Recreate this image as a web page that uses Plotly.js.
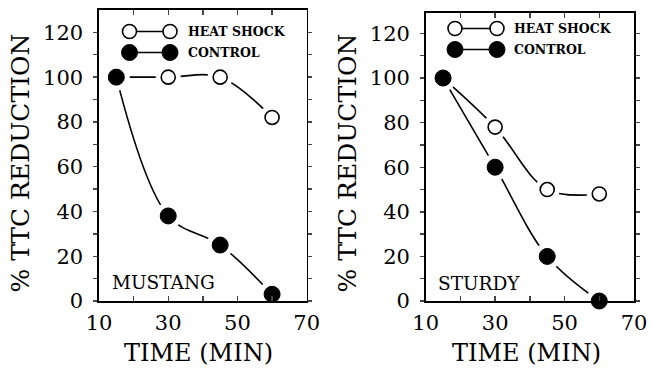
<!DOCTYPE html>
<html>
<head>
<meta charset="utf-8">
<script src="https://cdn.plot.ly/plotly-3.0.1.min.js"></script>
<style>html,body{margin:0;padding:0;background:#fff}#chart{width:652px;height:371px}</style>
</head>
<body>
<div id="chart"></div>
<script>
// ---- data ----
var timeMin = [15, 30, 45, 60];
var mustangHeatShock = [100, 100, 100, 82];
var mustangControl = [100, 38, 25, 3];
var sturdyHeatShock = [100, 78, 50, 48];
var sturdyControl = [100, 60, 20, 0];
var xTickVals = [10, 20, 30, 40, 50, 60, 70];
var xTickText = ["10", "", "30", "", "50", "", "70"];
var yTickVals = [0, 10, 20, 30, 40, 50, 60, 70, 80, 90, 100, 110, 120];
var yTickText = ["0", "", "20", "", "40", "", "60", "", "80", "", "100", "", "120"];
var panelNames = ["MUSTANG", "STURDY"];
var seriesNames = ["HEAT SHOCK", "CONTROL"];
var xTitle = "TIME (MIN)";
var yTitle = "% TTC REDUCTION";

var W = 652, H = 371;
function px(x){return x / W;}
function py(y){return 1 - y / H;}
var serif = "DejaVu Serif, serif";

// line with white "gap" markers drawn in the same trace (markers sit above their own line)
function lineTrace(x, y, xa, ya, gap){
  return {x:x, y:y, xaxis:xa, yaxis:ya, mode:'lines+markers', type:'scatter',
    line:{color:'#000', width:1.6, shape:'spline', smoothing:1},
    marker:{color:'#fff', size:gap, line:{color:'#fff', width:0}},
    hoverinfo:'skip', showlegend:false, cliponaxis:true};
}
function markTrace(x, y, xa, ya, filled, name){
  return {x:x, y:y, xaxis:xa, yaxis:ya, mode:'markers', type:'scatter', name:name,
    marker:filled ? {color:'#000', size:16, line:{color:'#000', width:1}}
                  : {color:'#fff', size:14, line:{color:'#000', width:1.6}},
    showlegend:false, cliponaxis:false};
}

var data = [
  lineTrace(timeMin, mustangHeatShock, 'x', 'y', 25),
  lineTrace(timeMin, mustangControl, 'x', 'y', 27),
  lineTrace(timeMin, sturdyHeatShock, 'x2', 'y2', 25),
  lineTrace(timeMin, sturdyControl, 'x2', 'y2', 27),
  markTrace(timeMin, mustangHeatShock, 'x', 'y', false, seriesNames[0]),
  markTrace(timeMin, mustangControl, 'x', 'y', true, seriesNames[1]),
  markTrace(timeMin, sturdyHeatShock, 'x2', 'y2', false, seriesNames[0]),
  markTrace(timeMin, sturdyControl, 'x2', 'y2', true, seriesNames[1])
];

function xaxis(domain, anchor){
  return {domain:domain, anchor:anchor, range:[10,70], tickmode:'array',
    tickvals:xTickVals, ticktext:xTickText, ticks:'inside', ticklen:5, tickwidth:1.4,
    showline:true, linewidth:1.6, linecolor:'#000', mirror:'ticks', showgrid:false,
    zeroline:false, tickfont:{family:serif, size:21, color:'#000'}, automargin:false,
    ticklabelstandoff:2, layer:'above traces'};
}
function yaxis(domain, anchor, top){
  return {domain:domain, anchor:anchor, range:[0,top], tickmode:'array',
    tickvals:yTickVals, ticktext:yTickText, ticks:'outside', ticklen:4, tickwidth:1.4,
    showline:true, linewidth:1.6, linecolor:'#000', mirror:'ticks', showgrid:false,
    zeroline:false, tickfont:{family:serif, size:21, color:'#000'}, automargin:false,
    ticklabelstandoff:6, layer:'above traces'};
}

var shapes = [];
var annotations = [];
function legend(cx1, cx2, yRow1, yRow2, textX){
  var rows = [[yRow1, false, seriesNames[0]], [yRow2, true, seriesNames[1]]];
  rows.forEach(function(r){
    shapes.push({type:'line', xref:'paper', yref:'paper', x0:px(cx1), x1:px(cx2),
      y0:py(r[0]), y1:py(r[0]), line:{color:'#000', width:1.6}});
    [cx1, cx2].forEach(function(cx){
      var d = r[1] ? 16 : 14;
      shapes.push({type:'circle', xref:'paper', yref:'paper', xsizemode:'pixel', ysizemode:'pixel',
        xanchor:px(cx), yanchor:py(r[0]), x0:-d/2, x1:d/2, y0:-d/2, y1:d/2,
        fillcolor:r[1] ? '#000' : '#fff', line:{color:'#000', width:r[1] ? 1 : 1.6}});
    });
    annotations.push({xref:'paper', yref:'paper', x:px(textX), y:py(r[0]), xanchor:'left', yanchor:'middle',
      text:'<b>' + r[2] + '</b>', showarrow:false, font:{family:serif, size:12.5, color:'#000'}});
  });
}
legend(129.5, 170, 31.5, 52.5, 186);
legend(455, 497, 28.5, 49.5, 512);

annotations.push({xref:'paper', yref:'paper', x:px(110), y:py(282), xanchor:'left', yanchor:'middle',
  text:panelNames[0], showarrow:false, font:{family:serif, size:18.5, color:'#000'}});
annotations.push({xref:'paper', yref:'paper', x:px(436), y:py(283), xanchor:'left', yanchor:'middle',
  text:panelNames[1], showarrow:false, font:{family:serif, size:18.5, color:'#000'}});
[[198, 20], [526, 347]].forEach(function(p){
  annotations.push({xref:'paper', yref:'paper', x:px(p[0]), y:py(353), xanchor:'center', yanchor:'middle',
    text:xTitle, showarrow:false, font:{family:serif, size:24, color:'#000'}});
  annotations.push({xref:'paper', yref:'paper', x:px(p[1]), y:py(163.5), xanchor:'center', yanchor:'middle',
    text:yTitle, textangle:-90, showarrow:false, font:{family:serif, size:25, color:'#000'}});
});

var layout = {
  width:W, height:H, margin:{l:0, r:0, t:0, b:0},
  paper_bgcolor:'#fff', plot_bgcolor:'#fff', showlegend:false,
  xaxis:xaxis([px(99), px(306.7)], 'y'),
  yaxis:yaxis([py(301), py(10)], 'x', 130),
  xaxis2:xaxis([px(425.7), px(634)], 'y2'),
  yaxis2:yaxis([py(301), py(12.7)], 'x2', 129.3),
  shapes:shapes, annotations:annotations
};
Plotly.newPlot('chart', data, layout, {displayModeBar:false, staticPlot:true});
</script>
</body>
</html>
